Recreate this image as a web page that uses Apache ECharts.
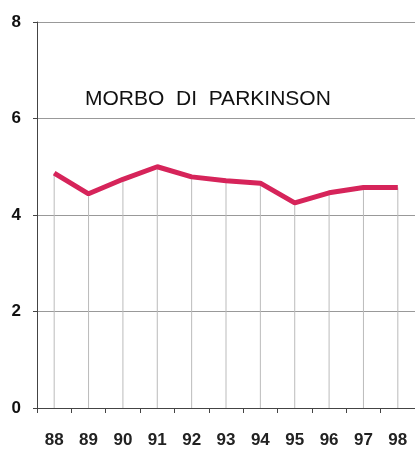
<!DOCTYPE html>
<html>
<head>
<meta charset="utf-8">
<script src="https://cdn.jsdelivr.net/npm/echarts@6/dist/echarts.min.js"></script>
<style>
  html, body { margin: 0; padding: 0; background: #fff; }
  #chart { width: 415px; height: 453px; }
</style>
</head>
<body>
<div id="chart"></div>
<script>
// anni (ultime due cifre) e valori
var years = ['88', '89', '90', '91', '92', '93', '94', '95', '96', '97', '98']
var values = [4.87, 4.44, 4.74, 5.0, 4.79, 4.71, 4.66, 4.25, 4.46, 4.57, 4.57]
var yTicks = [0, 2, 4, 6, 8]

var myChart = echarts.init(document.getElementById('chart'))
var option = {
  animation: false,
  grid: { left: 37, right: 0, top: 22, bottom: 45 },
  title: {
    text: 'MORBO  DI  PARKINSON',
    left: 80,
    top: 84,
    textStyle: { fontFamily: 'Liberation Sans', fontSize: 21, fontWeight: 'normal', color: '#111' }
  },
  xAxis: {
    type: 'category',
    data: years,
    boundaryGap: true,
    axisLine: { lineStyle: { color: '#444', width: 1 } },
    axisTick: { show: true, length: 5, lineStyle: { color: '#444' } },
    axisLabel: { margin: 24, fontFamily: 'Liberation Sans', fontSize: 17, fontWeight: 'bold', color: '#222' },
    splitLine: { show: false }
  },
  yAxis: {
    type: 'value',
    min: yTicks[0],
    max: yTicks[yTicks.length - 1],
    interval: 2,
    axisLine: { show: true, lineStyle: { color: '#444', width: 1 } },
    axisTick: { show: true, length: 4, lineStyle: { color: '#444' } },
    axisLabel: { margin: 16, fontFamily: 'Liberation Sans', fontSize: 17, fontWeight: 'bold', color: '#111' },
    splitLine: { show: true, lineStyle: { color: '#999', width: 1 } }
  },
  series: [
    {
      // linee verticali della griglia, dal punto fino all'asse
      type: 'bar',
      data: values,
      barWidth: 1,
      itemStyle: { color: '#bbb' },
      silent: true,
      z: 1
    },
    {
      name: 'Parkinson',
      type: 'line',
      data: values,
      symbol: 'none',
      lineStyle: { color: '#d6245a', width: 5 },
      z: 3
    }
  ]
}
myChart.setOption(option)
</script>
</body>
</html>
